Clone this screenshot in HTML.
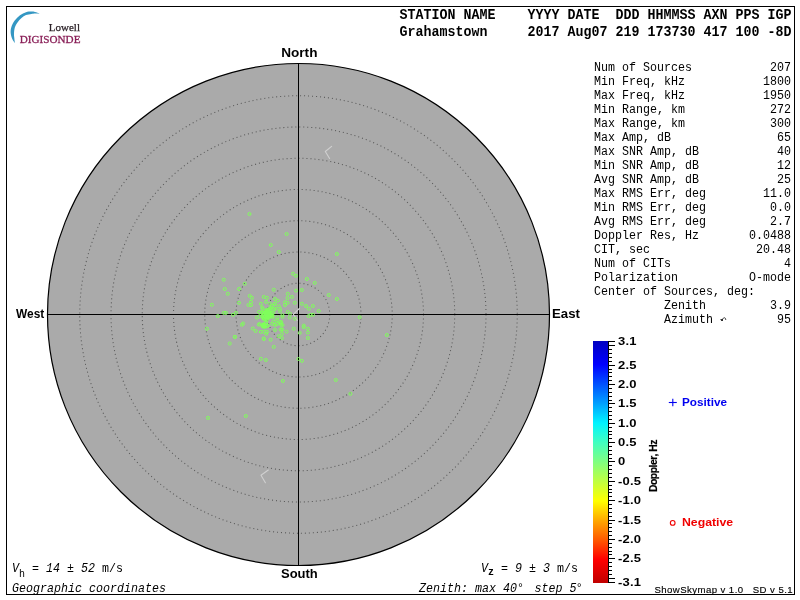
<!DOCTYPE html>
<html><head><meta charset="utf-8"><title>Skymap</title>
<style>
html,body{margin:0;padding:0;background:#fff;}
body{width:800px;height:600px;position:relative;overflow:hidden;font-family:"Liberation Mono",monospace;color:#000;}
.frame{position:absolute;left:6px;top:6px;width:787px;height:587px;border:1px solid #000;}
svg{position:absolute;left:0;top:0;}
.hd{position:absolute;left:399.5px;font:bold 13.333px/17px "Liberation Mono",monospace;white-space:pre;transform:scaleY(1.06);transform-origin:0 12.1px;}
.info{position:absolute;left:594px;top:61px;width:197px;font:11.667px/14px "Liberation Mono",monospace;}
.info .r{display:flex;justify-content:space-between;white-space:pre;height:14px;transform:scaleY(1.07);transform-origin:0 10.1px;}
.dir{position:absolute;font:bold 13.6px/14px "Liberation Sans",sans-serif;white-space:pre;transform-origin:0 50%;}
.bt{position:absolute;font:11.667px/14px "Liberation Mono",monospace;white-space:pre;transform:scaleY(1.15);transform-origin:0 10.1px;}
.bt i{font-style:italic;}
.bt sub{font-size:10px;vertical-align:baseline;position:relative;top:3.8px;}
.cl{position:absolute;left:618px;font:bold 11px/14px "Liberation Sans",sans-serif;letter-spacing:0.2px;white-space:pre;transform:scaleX(1.18);transform-origin:0 50%;}
.lg{position:absolute;font:bold 10.2px/14px "Liberation Sans",sans-serif;white-space:pre;transform-origin:0 50%;}
.dop{position:absolute;left:653.7px;top:465.8px;width:0;height:0;}
.dop span{position:absolute;left:-40px;top:-7px;width:80px;height:14px;text-align:center;transform:rotate(-90deg);font:bold 10.3px/14px "Liberation Sans",sans-serif;white-space:pre;letter-spacing:-0.42px;-webkit-text-stroke:0.2px #000;}
.ver{position:absolute;left:654.5px;top:583.8px;font:9.6px/12px "Liberation Sans",sans-serif;white-space:pre;letter-spacing:0.43px;-webkit-text-stroke:0.15px #000;}
.lo1{position:absolute;left:48.8px;top:19.7px;font:11px/14px "Liberation Serif",serif;color:#2c2228;white-space:pre;-webkit-text-stroke:0.25px #2c2228;}
.lo2{position:absolute;left:19.8px;top:31.5px;font:11.15px/14px "Liberation Serif",serif;color:#8a2159;white-space:pre;-webkit-text-stroke:0.3px #8a2159;}
#w{position:absolute;left:0;top:0;width:800px;height:600px;will-change:transform;}
</style></head><body><div id="w">
<div class="frame"></div>
<svg width="800" height="600" viewBox="0 0 800 600">
<defs>
<linearGradient id="cb" x1="0" y1="0" x2="0" y2="1">
<stop offset="0" stop-color="#0000c0"/>
<stop offset="0.097" stop-color="#0000ff"/>
<stop offset="0.177" stop-color="#0050ff"/>
<stop offset="0.258" stop-color="#00a0ff"/>
<stop offset="0.339" stop-color="#00f4ff"/>
<stop offset="0.419" stop-color="#40ffc0"/>
<stop offset="0.5" stop-color="#80ff80"/>
<stop offset="0.581" stop-color="#c0ff40"/>
<stop offset="0.661" stop-color="#ffff00"/>
<stop offset="0.742" stop-color="#ffa800"/>
<stop offset="0.823" stop-color="#ff5800"/>
<stop offset="0.903" stop-color="#ff0000"/>
<stop offset="1" stop-color="#c00000"/>
</linearGradient>
</defs>
<!-- sky disc -->
<circle cx="298.5" cy="314.5" r="251" fill="#aaaaaa" stroke="#000" stroke-width="1.2"/>
<g fill="none" stroke="#5a5a5a" stroke-width="1.05" stroke-dasharray="1.05 2.95"><circle cx="298.5" cy="314.5" r="31.25"/><circle cx="298.5" cy="314.5" r="62.50"/><circle cx="298.5" cy="314.5" r="93.75"/><circle cx="298.5" cy="314.5" r="125.00"/><circle cx="298.5" cy="314.5" r="156.25"/><circle cx="298.5" cy="314.5" r="187.50"/><circle cx="298.5" cy="314.5" r="218.75"/></g>
<rect x="298" y="63" width="1" height="503" fill="#000"/>
<rect x="47" y="314" width="503" height="1" fill="#000"/>
<!-- chevrons -->
<g fill="none" stroke="#d0d0d0" stroke-width="1.1" stroke-linecap="round" stroke-linejoin="round">
<polyline points="331.6,146.3 325.3,151.5 329.6,158.5"/>
<polyline points="268.3,470 261,475.3 265.4,482.7"/>
<polyline points="299.3,308.5 293.3,314.3 297.3,320.5"/>
</g>
<!-- sources -->
<g fill="none" stroke="#80ff5c" stroke-width="1.0"><circle cx="249.5" cy="214" r="1.5"/><circle cx="286.6" cy="234" r="1.5"/><circle cx="270.75" cy="245" r="1.5"/><circle cx="278.75" cy="252" r="1.5"/><circle cx="293" cy="273.75" r="1.5"/><circle cx="296" cy="275.75" r="1.5"/><circle cx="223.75" cy="279.75" r="1.5"/><circle cx="244.75" cy="283.75" r="1.5"/><circle cx="224.75" cy="289" r="1.5"/><circle cx="239" cy="289" r="1.5"/><circle cx="273.75" cy="289.75" r="1.5"/><circle cx="296" cy="290.6" r="1.5"/><circle cx="227.75" cy="293.75" r="1.5"/><circle cx="287.75" cy="293.75" r="1.5"/><circle cx="249.75" cy="295.9" r="1.5"/><circle cx="251.9" cy="297.75" r="1.5"/><circle cx="263.75" cy="296.9" r="1.5"/><circle cx="266.9" cy="297.75" r="1.5"/><circle cx="291.9" cy="296.9" r="1.5"/><circle cx="287.5" cy="298" r="1.5"/><circle cx="275" cy="299" r="1.5"/><circle cx="277.75" cy="300.6" r="1.5"/><circle cx="251" cy="301.9" r="1.5"/><circle cx="266" cy="301.9" r="1.5"/><circle cx="239" cy="302.75" r="1.5"/><circle cx="285" cy="302.25" r="1.5"/><circle cx="287.5" cy="302.75" r="1.5"/><circle cx="294.75" cy="302.75" r="1.5"/><circle cx="260.9" cy="303.75" r="1.5"/><circle cx="270" cy="303.75" r="1.5"/><circle cx="275" cy="303.75" r="1.5"/><circle cx="211.9" cy="304.75" r="1.5"/><circle cx="248.5" cy="305" r="1.5"/><circle cx="251" cy="305" r="1.5"/><circle cx="285" cy="305" r="1.5"/><circle cx="271.9" cy="306" r="1.5"/><circle cx="278.75" cy="306.25" r="1.5"/><circle cx="275.6" cy="308.75" r="1.5"/><circle cx="280" cy="308.75" r="1.5"/><circle cx="259" cy="311.9" r="1.5"/><circle cx="280" cy="311.25" r="1.5"/><circle cx="287.75" cy="311.9" r="1.5"/><circle cx="223.75" cy="312.9" r="1.5"/><circle cx="226" cy="312.9" r="1.5"/><circle cx="236" cy="312.9" r="1.5"/><circle cx="233" cy="314.75" r="1.5"/><circle cx="290" cy="313.75" r="1.5"/><circle cx="217.75" cy="316" r="1.5"/><circle cx="256.9" cy="317.5" r="1.5"/><circle cx="259.4" cy="316.25" r="1.5"/><circle cx="277.5" cy="317.5" r="1.5"/><circle cx="282.5" cy="316.9" r="1.5"/><circle cx="289.75" cy="317.5" r="1.5"/><circle cx="294.75" cy="318.75" r="1.5"/><circle cx="276.9" cy="320" r="1.5"/><circle cx="280" cy="322.5" r="1.5"/><circle cx="241.9" cy="324.75" r="1.5"/><circle cx="243.1" cy="323.5" r="1.5"/><circle cx="258.75" cy="324.6" r="1.5"/><circle cx="282.5" cy="325" r="1.5"/><circle cx="275" cy="325" r="1.5"/><circle cx="206.9" cy="328.75" r="1.5"/><circle cx="252.75" cy="328.5" r="1.5"/><circle cx="255.6" cy="331" r="1.5"/><circle cx="293.75" cy="328.75" r="1.5"/><circle cx="275" cy="330" r="1.5"/><circle cx="281.9" cy="329.4" r="1.5"/><circle cx="260.9" cy="331.9" r="1.5"/><circle cx="263.75" cy="331.9" r="1.5"/><circle cx="266.9" cy="331.9" r="1.5"/><circle cx="266.25" cy="333.75" r="1.5"/><circle cx="286.6" cy="331.6" r="1.5"/><circle cx="281.9" cy="333.75" r="1.5"/><circle cx="235" cy="336.9" r="1.5"/><circle cx="278.75" cy="336.25" r="1.5"/><circle cx="281.9" cy="338" r="1.5"/><circle cx="263.75" cy="338.5" r="1.5"/><circle cx="270.6" cy="339.75" r="1.5"/><circle cx="229.75" cy="343.5" r="1.5"/><circle cx="336.9" cy="254" r="1.5"/><circle cx="306.9" cy="279" r="1.5"/><circle cx="314.75" cy="282.9" r="1.5"/><circle cx="301.9" cy="290" r="1.5"/><circle cx="328.75" cy="295" r="1.5"/><circle cx="336.9" cy="299" r="1.5"/><circle cx="301.9" cy="303.75" r="1.5"/><circle cx="306" cy="306" r="1.5"/><circle cx="312.9" cy="306" r="1.5"/><circle cx="308.75" cy="308.75" r="1.5"/><circle cx="318.75" cy="310.9" r="1.5"/><circle cx="308.5" cy="316" r="1.5"/><circle cx="310.6" cy="314.75" r="1.5"/><circle cx="313" cy="314.75" r="1.5"/><circle cx="359.75" cy="317.25" r="1.5"/><circle cx="303.75" cy="325.6" r="1.5"/><circle cx="303.75" cy="327.1" r="1.5"/><circle cx="307.9" cy="328.75" r="1.5"/><circle cx="307.9" cy="332.5" r="1.5"/><circle cx="299.75" cy="332.9" r="1.5"/><circle cx="307.9" cy="338" r="1.5"/><circle cx="386.9" cy="335" r="1.5"/><circle cx="298.5" cy="359" r="1.5"/><circle cx="301.9" cy="360.9" r="1.5"/><circle cx="234.75" cy="336.9" r="1.5"/><circle cx="263.75" cy="339" r="1.5"/><circle cx="273.75" cy="346.9" r="1.5"/><circle cx="260.9" cy="358.75" r="1.5"/><circle cx="265.9" cy="360" r="1.5"/><circle cx="282.9" cy="381" r="1.5"/><circle cx="335.8" cy="380" r="1.5"/><circle cx="350.4" cy="393.8" r="1.5"/><circle cx="208" cy="417.9" r="1.5"/><circle cx="245.8" cy="416" r="1.5"/><circle cx="266.9" cy="315.6" r="1.5"/><circle cx="266.9" cy="313.0" r="1.5"/><circle cx="264.9" cy="313.3" r="1.5"/><circle cx="270.8" cy="315.3" r="1.5"/><circle cx="270.6" cy="314.8" r="1.5"/><circle cx="268.7" cy="314.6" r="1.5"/><circle cx="262.8" cy="316.7" r="1.5"/><circle cx="269.1" cy="315.5" r="1.5"/><circle cx="262.7" cy="308.6" r="1.5"/><circle cx="265.0" cy="312.5" r="1.5"/><circle cx="268.5" cy="313.9" r="1.5"/><circle cx="269.1" cy="312.0" r="1.5"/><circle cx="268.5" cy="315.2" r="1.5"/><circle cx="265.7" cy="319.3" r="1.5"/><circle cx="269.2" cy="317.7" r="1.5"/><circle cx="265.8" cy="311.7" r="1.5"/><circle cx="266.6" cy="313.7" r="1.5"/><circle cx="269.4" cy="314.8" r="1.5"/><circle cx="266.3" cy="311.0" r="1.5"/><circle cx="266.1" cy="317.8" r="1.5"/><circle cx="265.3" cy="314.8" r="1.5"/><circle cx="268.8" cy="309.4" r="1.5"/><circle cx="267.7" cy="318.0" r="1.5"/><circle cx="262" cy="313.0" r="1.5"/><circle cx="267.3" cy="311.5" r="1.5"/><circle cx="269.0" cy="313.8" r="1.5"/><circle cx="263.4" cy="316.6" r="1.5"/><circle cx="269.5" cy="316.9" r="1.5"/><circle cx="271.8" cy="315.1" r="1.5"/><circle cx="267.9" cy="310.0" r="1.5"/><circle cx="269.4" cy="312.1" r="1.5"/><circle cx="266.3" cy="310.1" r="1.5"/><circle cx="264.8" cy="312.4" r="1.5"/><circle cx="271.3" cy="307.7" r="1.5"/><circle cx="263.4" cy="314.7" r="1.5"/><circle cx="271.8" cy="315.8" r="1.5"/><circle cx="262.1" cy="307.5" r="1.5"/><circle cx="268.6" cy="311.7" r="1.5"/><circle cx="264.4" cy="317.0" r="1.5"/><circle cx="270.8" cy="314.5" r="1.5"/><circle cx="268.3" cy="315.3" r="1.5"/><circle cx="272.2" cy="315.9" r="1.5"/><circle cx="269.1" cy="315.7" r="1.5"/><circle cx="263.1" cy="318.0" r="1.5"/><circle cx="270.4" cy="315.6" r="1.5"/><circle cx="262" cy="312.0" r="1.5"/><circle cx="270.0" cy="308.4" r="1.5"/><circle cx="267.1" cy="317.2" r="1.5"/><circle cx="263.8" cy="319.0" r="1.5"/><circle cx="269.2" cy="313.5" r="1.5"/><circle cx="268.5" cy="316.0" r="1.5"/><circle cx="267.9" cy="317.6" r="1.5"/><circle cx="265.7" cy="312.7" r="1.5"/><circle cx="270.6" cy="314.1" r="1.5"/><circle cx="265.0" cy="316.9" r="1.5"/><circle cx="271.8" cy="312.6" r="1.5"/><circle cx="263.6" cy="313.6" r="1.5"/><circle cx="267.2" cy="313.1" r="1.5"/><circle cx="266.2" cy="322.9" r="1.5"/><circle cx="266.0" cy="322.5" r="1.5"/><circle cx="262.7" cy="326.3" r="1.5"/><circle cx="265.8" cy="326.7" r="1.5"/><circle cx="264.6" cy="325.3" r="1.5"/><circle cx="264.2" cy="326.2" r="1.5"/><circle cx="263.7" cy="325.6" r="1.5"/><circle cx="264.9" cy="325.0" r="1.5"/><circle cx="265.2" cy="326.1" r="1.5"/><circle cx="267.2" cy="325.6" r="1.5"/><circle cx="263.3" cy="324.3" r="1.5"/><circle cx="264.0" cy="326.8" r="1.5"/><circle cx="263.5" cy="325.8" r="1.5"/><circle cx="266.9" cy="319.9" r="1.5"/><circle cx="262.2" cy="325.5" r="1.5"/><circle cx="264.6" cy="325.5" r="1.5"/><circle cx="263.3" cy="326.3" r="1.5"/><circle cx="264.5" cy="324.0" r="1.5"/><circle cx="267.9" cy="325.7" r="1.5"/><circle cx="263.1" cy="324.8" r="1.5"/><circle cx="263.6" cy="324.9" r="1.5"/><circle cx="259.6" cy="324.0" r="1.5"/><circle cx="281.2" cy="321.8" r="1.5"/><circle cx="273.4" cy="312.9" r="1.5"/><circle cx="272.2" cy="323.8" r="1.5"/><circle cx="276.9" cy="324.0" r="1.5"/><circle cx="274.3" cy="309.0" r="1.5"/><circle cx="280.5" cy="329.6" r="1.5"/><circle cx="281.1" cy="324.8" r="1.5"/><circle cx="280.6" cy="323.0" r="1.5"/><circle cx="272.9" cy="317.0" r="1.5"/><circle cx="274.6" cy="303.8" r="1.5"/><circle cx="270.4" cy="310.5" r="1.5"/><circle cx="273.4" cy="321.7" r="1.5"/><circle cx="282.4" cy="315.1" r="1.5"/><circle cx="282.2" cy="329.7" r="1.5"/></g>
<!-- colour bar -->
<rect x="593" y="341" width="15" height="242" fill="url(#cb)"/>
<rect x="608" y="341" width="1" height="242" fill="#000"/>
<g fill="#000"><rect x="609" y="341" width="6" height="1"/><rect x="609" y="345" width="6" height="1"/><rect x="609" y="349" width="3" height="1"/><rect x="609" y="353" width="3" height="1"/><rect x="609" y="357" width="3" height="1"/><rect x="609" y="361" width="3" height="1"/><rect x="609" y="365" width="6" height="1"/><rect x="609" y="369" width="3" height="1"/><rect x="609" y="372" width="3" height="1"/><rect x="609" y="376" width="3" height="1"/><rect x="609" y="380" width="3" height="1"/><rect x="609" y="384" width="6" height="1"/><rect x="609" y="388" width="3" height="1"/><rect x="609" y="392" width="3" height="1"/><rect x="609" y="396" width="3" height="1"/><rect x="609" y="400" width="3" height="1"/><rect x="609" y="403" width="6" height="1"/><rect x="609" y="407" width="3" height="1"/><rect x="609" y="411" width="3" height="1"/><rect x="609" y="415" width="3" height="1"/><rect x="609" y="419" width="3" height="1"/><rect x="609" y="423" width="6" height="1"/><rect x="609" y="427" width="3" height="1"/><rect x="609" y="431" width="3" height="1"/><rect x="609" y="434" width="3" height="1"/><rect x="609" y="438" width="3" height="1"/><rect x="609" y="442" width="6" height="1"/><rect x="609" y="446" width="3" height="1"/><rect x="609" y="450" width="3" height="1"/><rect x="609" y="454" width="3" height="1"/><rect x="609" y="458" width="3" height="1"/><rect x="609" y="461" width="6" height="1"/><rect x="609" y="465" width="3" height="1"/><rect x="609" y="469" width="3" height="1"/><rect x="609" y="473" width="3" height="1"/><rect x="609" y="477" width="3" height="1"/><rect x="609" y="481" width="6" height="1"/><rect x="609" y="485" width="3" height="1"/><rect x="609" y="489" width="3" height="1"/><rect x="609" y="492" width="3" height="1"/><rect x="609" y="496" width="3" height="1"/><rect x="609" y="500" width="6" height="1"/><rect x="609" y="504" width="3" height="1"/><rect x="609" y="508" width="3" height="1"/><rect x="609" y="512" width="3" height="1"/><rect x="609" y="516" width="3" height="1"/><rect x="609" y="520" width="6" height="1"/><rect x="609" y="523" width="3" height="1"/><rect x="609" y="527" width="3" height="1"/><rect x="609" y="531" width="3" height="1"/><rect x="609" y="535" width="3" height="1"/><rect x="609" y="539" width="6" height="1"/><rect x="609" y="543" width="3" height="1"/><rect x="609" y="547" width="3" height="1"/><rect x="609" y="551" width="3" height="1"/><rect x="609" y="554" width="3" height="1"/><rect x="609" y="558" width="6" height="1"/><rect x="609" y="562" width="3" height="1"/><rect x="609" y="566" width="3" height="1"/><rect x="609" y="570" width="3" height="1"/><rect x="609" y="574" width="3" height="1"/><rect x="609" y="578" width="6" height="1"/><rect x="609" y="582" width="6" height="1"/></g>
<!-- legend glyphs -->
<g stroke="#0000f0" stroke-width="1.1"><line x1="668.8" y1="402.5" x2="676.8" y2="402.5"/><line x1="672.8" y1="398.8" x2="672.8" y2="406.2"/></g>
<circle cx="672.7" cy="522.9" r="2.35" fill="none" stroke="#f00000" stroke-width="1.1"/>
<!-- azimuth arrow glyph -->
<path d="M725.7 320.0 C726.0 317.2 723.2 316.8 722.3 320.0" fill="none" stroke="#333" stroke-width="0.95"/><path d="M720.2 319.1 L722.7 319.2 L723.0 321.0 L721.4 321.0 Z" fill="#1a1a1a"/>
<!-- logo arc -->
<path d="M39.3 13.3 C38.58 13.08 36.33 12.28 35 12.0 C33.67 11.72 32.80 11.57 31.3 11.6 C29.80 11.63 27.88 11.60 26 12.2 C24.12 12.80 21.88 13.80 20 15.2 C18.12 16.60 16.15 18.58 14.7 20.6 C13.25 22.62 11.97 25.18 11.3 27.3 C10.63 29.42 10.52 31.30 10.7 33.3 C10.88 35.30 11.70 37.65 12.4 39.3 C13.10 40.95 14.48 42.55 14.9 43.2L14.9 43.2 C14.80 42.33 14.45 39.65 14.3 38 C14.15 36.35 13.90 35.08 14.0 33.3 C14.10 31.52 14.32 29.12 14.9 27.3 C15.48 25.48 16.40 23.93 17.5 22.4 C18.60 20.87 20.08 19.32 21.5 18.1 C22.92 16.88 24.37 15.80 26 15.1 C27.63 14.40 29.80 14.18 31.3 13.9 C32.80 13.62 33.67 13.45 35 13.4 C36.33 13.35 38.58 13.57 39.3 13.6 Z" fill="#3497c3"/>
</svg>
<div class="lo1">Lowell</div>
<div class="lo2">DIGISONDE</div>
<div class="hd" style="top:7px">STATION NAME    YYYY DATE  DDD HHMMSS AXN PPS IGP</div>
<div class="hd" style="top:24px">Grahamstown     2017 Aug07 219 173730 417 100 -8D</div>
<div class="info"><div class="r"><span>Num of Sources</span><span>207</span></div><div class="r"><span>Min Freq, kHz</span><span>1800</span></div><div class="r"><span>Max Freq, kHz</span><span>1950</span></div><div class="r"><span>Min Range, km</span><span>272</span></div><div class="r"><span>Max Range, km</span><span>300</span></div><div class="r"><span>Max Amp, dB</span><span>65</span></div><div class="r"><span>Max SNR Amp, dB</span><span>40</span></div><div class="r"><span>Min SNR Amp, dB</span><span>12</span></div><div class="r"><span>Avg SNR Amp, dB</span><span>25</span></div><div class="r"><span>Max RMS Err, deg</span><span>11.0</span></div><div class="r"><span>Min RMS Err, deg</span><span>0.0</span></div><div class="r"><span>Avg RMS Err, deg</span><span>2.7</span></div><div class="r"><span>Doppler Res, Hz</span><span>0.0488</span></div><div class="r"><span>CIT, sec</span><span>20.48</span></div><div class="r"><span>Num of CITs</span><span>4</span></div><div class="r"><span>Polarization</span><span>O-mode</span></div><div class="r"><span>Center of Sources, deg:</span><span></span></div><div class="r"><span>          Zenith</span><span>3.9</span></div><div class="r"><span>          Azimuth</span><span>95</span></div></div>
<div class="dir" style="left:281.2px;top:45.6px;transform:scaleX(1.0)">North</div>
<div class="dir" style="left:281.4px;top:567.3px;transform:scaleX(0.955)">South</div>
<div class="dir" style="left:15.6px;top:307.3px;transform:scaleX(0.875)">West</div>
<div class="dir" style="left:552.1px;top:307.3px;transform:scaleX(0.97)">East</div>
<div class="bt" style="left:12px;top:561.8px"><i>V</i><sub>h</sub> = <i>14</i> ± <i>52</i> m/s</div>
<div class="bt" style="left:12px;top:582.3px"><i>Geographic coordinates</i></div>
<div class="bt" style="left:481px;top:561.8px"><i>V</i><sub style="font-weight:bold;top:3.2px">z</sub> = <i>9</i> ± <i>3</i> m/s</div>
<div class="bt" style="left:419px;top:582.3px"><i>Zenith: max 40<span style="letter-spacing:-3.4px">°</span>  step 5<span style="margin-left:-0.7px">°</span></i></div>
<div class="cl" style="top:334.20px">3.1</div><div class="cl" style="top:358.20px">2.5</div><div class="cl" style="top:377.20px">2.0</div><div class="cl" style="top:396.20px">1.5</div><div class="cl" style="top:416.20px">1.0</div><div class="cl" style="top:435.20px">0.5</div><div class="cl" style="top:454.20px">0</div><div class="cl" style="top:474.20px">-0.5</div><div class="cl" style="top:493.20px">-1.0</div><div class="cl" style="top:513.20px">-1.5</div><div class="cl" style="top:532.20px">-2.0</div><div class="cl" style="top:551.20px">-2.5</div><div class="cl" style="top:575.20px">-3.1</div>
<div class="lg" style="left:682.0px;top:396.2px;color:#0000f0;transform:scaleX(1.15)">Positive</div>
<div class="lg" style="left:682.0px;top:516.2px;color:#f00000;transform:scaleX(1.205)">Negative</div>
<div class="dop"><span>Doppler, Hz</span></div>
<div class="ver">ShowSkymap v 1.0   SD v 5.1</div>
</div></body></html>
